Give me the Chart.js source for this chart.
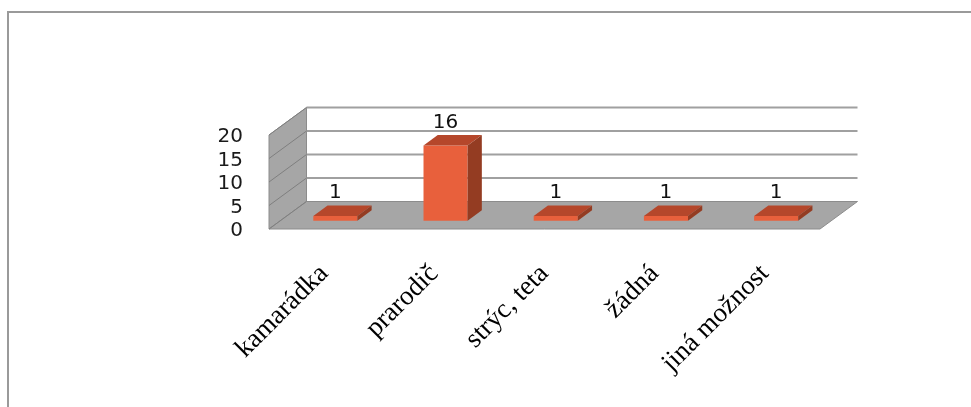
<!DOCTYPE html>
<html>
<head>
<meta charset="utf-8">
<script src="https://cdn.jsdelivr.net/npm/chart.js@4/dist/chart.umd.min.js"></script>
<style>
  html, body { margin: 0; padding: 0; background: #fff; }
  #wrap { width: 971px; height: 407px; position: relative; }
</style>
</head>
<body>
<div id="wrap"><canvas id="myBarChart" width="971" height="407"></canvas></div>
<script>
const categories = ["kamarádka", "prarodič", "strýc, teta", "žádná", "jiná možnost"];
const counts = [1, 16, 1, 1, 1];
const yTicks = [0, 5, 10, 15, 20];

// 3D look: depth of the walls and where the bars sit inside it
const depth = { x: 37.5, y: -27.5 };
const barFront = 0.3;
const barDepth = 0.38;

const threeD = {
  id: "threeD",
  beforeDraw(chart) {
    const ctx = chart.ctx;
    const a = chart.chartArea;
    const ys = chart.scales.y;
    const dx = depth.x, dy = depth.y;
    const y0 = ys.getPixelForValue(0);
    const yTop = ys.getPixelForValue(yTicks[yTicks.length - 1]);

    ctx.save();
    // outer frame (left and top only)
    ctx.strokeStyle = "#9a9a9a";
    ctx.lineWidth = 2;
    ctx.beginPath();
    ctx.moveTo(8, 407);
    ctx.lineTo(8, 12);
    ctx.lineTo(971, 12);
    ctx.stroke();

    // back wall
    ctx.fillStyle = "#ffffff";
    ctx.fillRect(a.left + dx, yTop + dy, a.right - a.left, y0 - yTop);

    // left side wall
    ctx.fillStyle = "#a6a6a6";
    ctx.strokeStyle = "#8c8c8c";
    ctx.lineWidth = 1;
    ctx.beginPath();
    ctx.moveTo(a.left, y0);
    ctx.lineTo(a.left, yTop);
    ctx.lineTo(a.left + dx, yTop + dy);
    ctx.lineTo(a.left + dx, y0 + dy);
    ctx.closePath();
    ctx.fill();
    ctx.stroke();

    // floor
    ctx.beginPath();
    ctx.moveTo(a.left, y0);
    ctx.lineTo(a.right, y0);
    ctx.lineTo(a.right + dx, y0 + dy);
    ctx.lineTo(a.left + dx, y0 + dy);
    ctx.closePath();
    ctx.fill();
    ctx.stroke();

    // grid lines on back wall and side wall
    yTicks.forEach(v => {
      const py = ys.getPixelForValue(v);
      if (v > 0) {
        ctx.strokeStyle = "#a0a0a0";
        ctx.lineWidth = 2;
        ctx.beginPath();
        ctx.moveTo(a.left + dx, py + dy);
        ctx.lineTo(a.right + dx, py + dy);
        ctx.stroke();
      }
      ctx.strokeStyle = "#7f7f7f";
      ctx.lineWidth = 1;
      ctx.beginPath();
      ctx.moveTo(a.left, py);
      ctx.lineTo(a.left + dx, py + dy);
      ctx.stroke();
    });
    ctx.restore();
  },
  beforeDatasetsDraw(chart) {
    chart.ctx.save();
    chart.ctx.translate(depth.x * barFront, depth.y * barFront);
  },
  afterDatasetsDraw(chart) {
    const ctx = chart.ctx;
    const bx = depth.x * barDepth, by = depth.y * barDepth;
    const meta = chart.getDatasetMeta(0);
    meta.data.forEach((el, i) => {
      const p = el.getProps(["x", "y", "base", "width"], true);
      const l = p.x - p.width / 2, r = p.x + p.width / 2;
      // top face
      ctx.fillStyle = "#b5472b";
      ctx.beginPath();
      ctx.moveTo(l, p.y);
      ctx.lineTo(r, p.y);
      ctx.lineTo(r + bx, p.y + by);
      ctx.lineTo(l + bx, p.y + by);
      ctx.closePath();
      ctx.fill();
      // right side face
      ctx.fillStyle = "#943c22";
      ctx.beginPath();
      ctx.moveTo(r, p.y);
      ctx.lineTo(r + bx, p.y + by);
      ctx.lineTo(r + bx, p.base + by);
      ctx.lineTo(r, p.base);
      ctx.closePath();
      ctx.fill();
      // value label
      ctx.fillStyle = "#111";
      ctx.font = "20px 'DejaVu Sans'";
      ctx.textAlign = "center";
      ctx.textBaseline = "alphabetic";
      ctx.fillText(String(counts[i]), p.x, p.y + by - 7.5);
    });
    ctx.restore();
  }
};

const ctx = document.getElementById("myBarChart").getContext("2d");
const myBarChart = new Chart(ctx, {
  type: "bar",
  data: {
    labels: categories,
    datasets: [{
      label: "počet",
      data: counts,
      backgroundColor: "#e8603c",
      borderWidth: 0,
      categoryPercentage: 1,
      barPercentage: 0.4,
      clip: false
    }]
  },
  options: {
    responsive: false,
    animation: false,
    layout: { padding: { left: 0, top: 135, right: 151, bottom: 0 } },
    plugins: {
      legend: { display: false },
      tooltip: { enabled: false }
    },
    scales: {
      x: {
        grid: { display: false, drawTicks: false },
        border: { display: false },
        afterFit: s => { s.height = 178; },
        ticks: {
          minRotation: 45,
          maxRotation: 45,
          autoSkip: false,
          padding: 29,
          color: "#000",
          font: { family: "'Liberation Serif'", size: 27 }
        }
      },
      y: {
        min: 0,
        max: 20,
        grid: { display: false, drawTicks: false },
        border: { display: false },
        afterFit: s => { s.width = 269; },
        ticks: {
          stepSize: 5,
          autoSkip: false,
          padding: 26,
          labelOffset: 2,
          color: "#1a1a1a",
          font: { family: "'DejaVu Sans'", size: 20 }
        }
      }
    }
  },
  plugins: [threeD]
});
</script>
</body>
</html>
